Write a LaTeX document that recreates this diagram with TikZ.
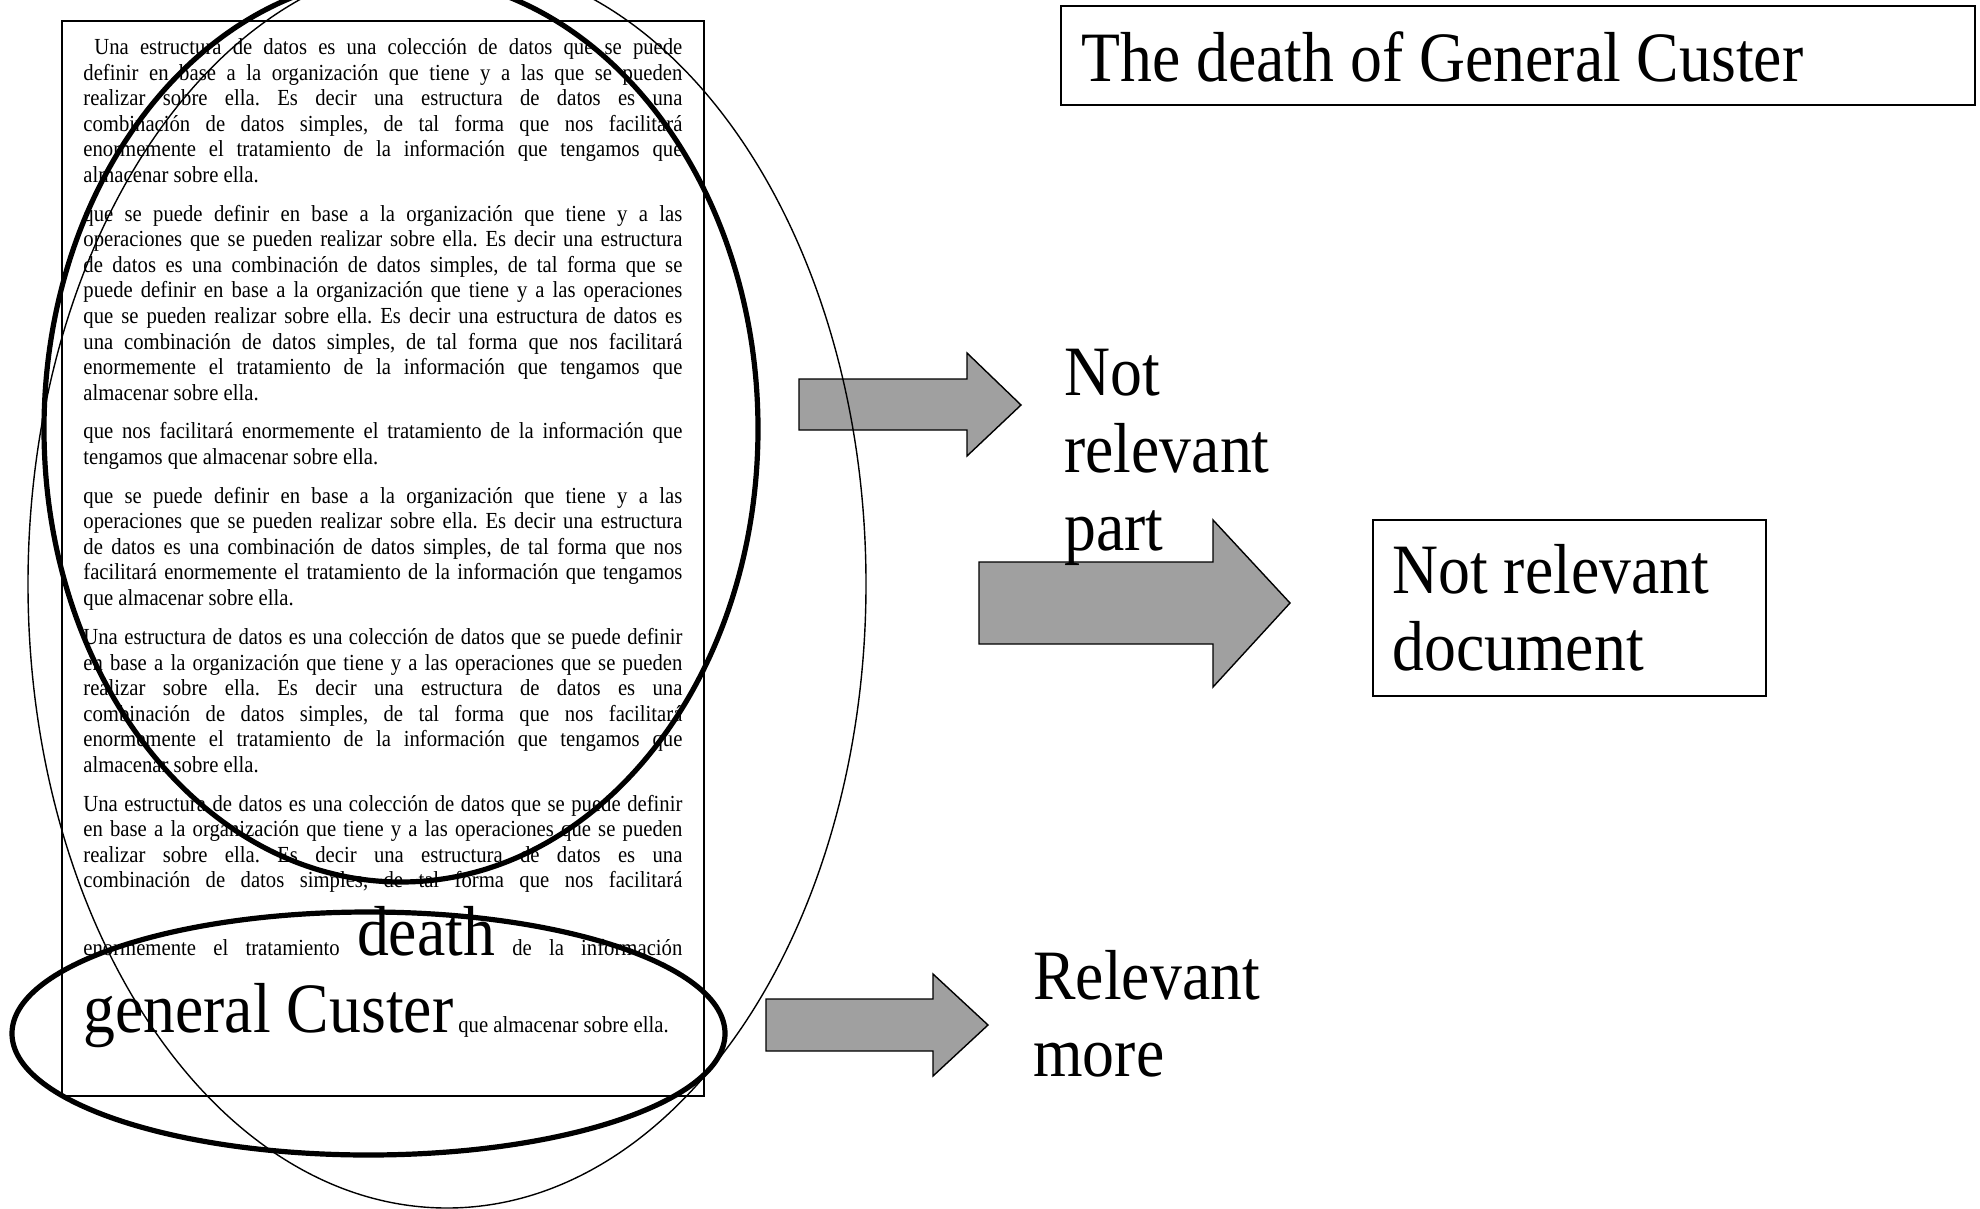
\documentclass[tikz,border=0pt]{standalone}
\usepackage{fontspec}
\setmainfont{Liberation Serif}[FakeStretch=0.9]
\definecolor{arrowgray}{RGB}{160,160,160}
\frenchspacing
\newcommand{\jln}[1]{\makebox[299.5pt][s]{#1}\par}
\newcommand{\lln}[1]{\mbox{#1}\par}
\newcommand{\bodyfont}{\fontsize{11.5}{12.75}\selectfont}
\newcommand{\bigfont}{\fontsize{35.4}{38.75}\selectfont}
\begin{document}
\begin{tikzpicture}[x=0.5pt,y=-0.5pt,
  para/.style={inner sep=0pt, anchor=base west, font=\bodyfont},
  lbl/.style={inner sep=0pt, anchor=base west, font=\bigfont},
  blockarrow/.style={draw=black, line width=0.7pt, fill=arrowgray, line join=miter},
  thickring/.style={draw=black, line width=2.6pt},
  thinring/.style={draw=black, line width=0.7pt},
  frame/.style={draw=black, line width=1.1pt},
  docframe/.style={draw=black, line width=1pt}]
\useasboundingbox (0,0) rectangle (1980,1209);
\clip (0,0) rectangle (1980,1209);

% document page
\draw[docframe] (62,21) rectangle (704,1096);

\node[para] (p1) at (83,55) {\parbox[t]{299.5pt}{\parskip=0pt
\jln{\hspace*{5.5pt}Una estructura de datos es una colección de datos que se puede}
\jln{definir en base a la organización que tiene y a las que se pueden}
\jln{realizar sobre ella. Es decir una estructura de datos es una}
\jln{combinación de datos simples, de tal forma que nos facilitará}
\jln{enormemente el tratamiento de la información que tengamos que}
\lln{almacenar sobre ella.}}};

\node[para] (p2) at (83,221.5) {\parbox[t]{299.5pt}{\parskip=0pt
\jln{que se puede definir en base a la organización que tiene y a las}
\jln{operaciones que se pueden realizar sobre ella. Es decir una estructura}
\jln{de datos es una combinación de datos simples, de tal forma que se}
\jln{puede definir en base a la organización que tiene y a las operaciones}
\jln{que se pueden realizar sobre ella. Es decir una estructura de datos es}
\jln{una combinación de datos simples, de tal forma que nos facilitará}
\jln{enormemente el tratamiento de la información que tengamos que}
\lln{almacenar sobre ella.}}};

\node[para] (p3) at (83,438.8) {\parbox[t]{299.5pt}{\parskip=0pt
\jln{que nos facilitará enormemente el tratamiento de la información que}
\lln{tengamos que almacenar sobre ella.}}};

\node[para] (p4) at (83,503.2) {\parbox[t]{299.5pt}{\parskip=0pt
\jln{que se puede definir en base a la organización que tiene y a las}
\jln{operaciones que se pueden realizar sobre ella. Es decir una estructura}
\jln{de datos es una combinación de datos simples, de tal forma que nos}
\jln{facilitará enormemente el tratamiento de la información que tengamos}
\lln{que almacenar sobre ella.}}};

\node[para] (p5) at (83,644.7) {\parbox[t]{299.5pt}{\parskip=0pt
\jln{Una estructura de datos es una colección de datos que se puede definir}
\jln{en base a la organización que tiene y a las operaciones que se pueden}
\jln{realizar sobre ella. Es decir una estructura de datos es una}
\jln{combinación de datos simples, de tal forma que nos facilitará}
\jln{enormemente el tratamiento de la información que tengamos que}
\lln{almacenar sobre ella.}}};

\node[para] (p6) at (83,811) {\parbox[t]{299.5pt}{\parskip=0pt
\jln{Una estructura de datos es una colección de datos que se puede definir}
\jln{en base a la organización que tiene y a las operaciones que se pueden}
\jln{realizar sobre ella. Es decir una estructura de datos es una}
\jln{combinación de datos simples, de tal forma que nos facilitará}}};

\node[para] (l5) at (83,955) {\makebox[299.5pt][s]{enormemente el tratamiento {\bigfont death} de la información}};
\node[para] (l6) at (83,1032) {{\bigfont general Custer} que almacenar sobre ella.};

% title and result boxes
\draw[frame] (1061,6) rectangle (1975,105);
\node[lbl] (title) at (1081,82) {The death of General Custer};
\draw[frame] (1373,520) rectangle (1766,696);
\node[lbl] (nrd) at (1392,593) {\parbox[t]{190pt}{\raggedright Not relevant\\document}};

% block arrows
\draw[blockarrow] (799,379) -- (967,379) -- (967,353) -- (1021,405) -- (967,456) -- (967,430) -- (799,430) -- cycle;
\draw[blockarrow] (979,562) -- (1213,562) -- (1213,520) -- (1290,603) -- (1213,687) -- (1213,644) -- (979,644) -- cycle;
\draw[blockarrow] (766,999) -- (933,999) -- (933,974) -- (988,1025) -- (933,1076) -- (933,1051) -- (766,1051) -- cycle;

% labels
\node[lbl] (nrp) at (1064,395) {\parbox[t]{120pt}{\raggedright Not\\relevant\\part}};
\node[lbl] (rm) at (1033,999) {\parbox[t]{120pt}{\raggedright Relevant\\more}};

% ellipses
\draw[thinring] (447,584) ellipse [x radius=209.5pt, y radius=312pt];
\draw[thickring] (401,429) ellipse [x radius=178.5pt, y radius=226.5pt];
\draw[thickring] (368.5,1033.5) ellipse [x radius=178.25pt, y radius=60.75pt];
\end{tikzpicture}
\end{document}
